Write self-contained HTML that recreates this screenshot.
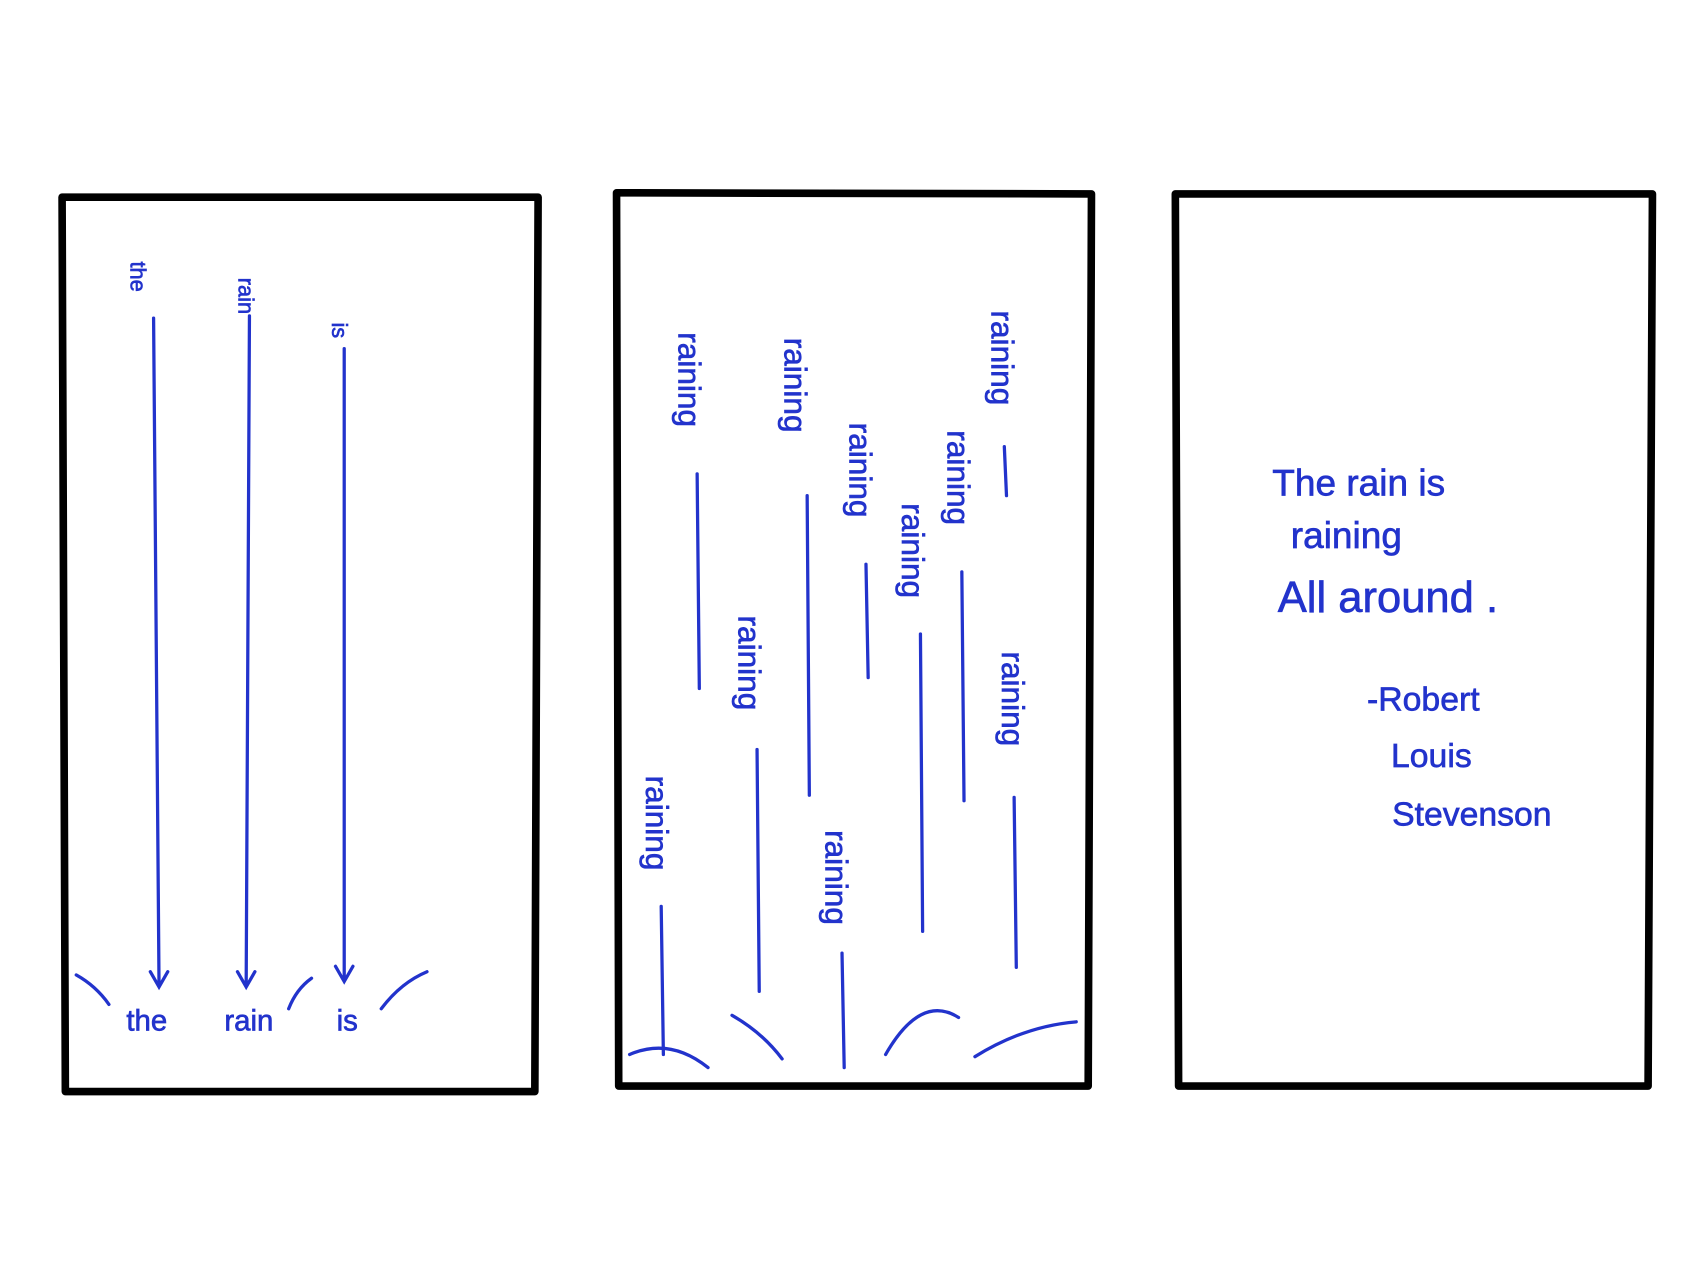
<!DOCTYPE html>
<html><head><meta charset="utf-8"><style>
html,body{margin:0;padding:0;background:#fff;}
svg{display:block;}
text{font-family:"Liberation Sans",sans-serif;fill:#2233cc;stroke:#2233cc;stroke-width:0.6;}
</style></head><body>
<svg id="s" width="1708" height="1280" viewBox="0 0 1568 1175" preserveAspectRatio="none">
<g fill="none" stroke="#000" stroke-width="7" stroke-linejoin="round">
<path d="M57,181 L494,181 L491,1002 L60,1002 Z"/>
<path d="M566,177 L1002,178 L999,997 L568,997 Z"/>
<path d="M1079,178 L1517,178 L1513,997 L1082,997 Z"/>
</g>
<g id="p1" stroke="#2233cc" stroke-width="3" fill="none" stroke-linecap="round">
<path d="M141,292 L146,905 M138,892 L146,906 L154,892"/>
<path d="M229,290 L226,905 M218,892 L226,906 L234,892"/>
<path d="M316,320 L316,900 M308,887 L316,901 L324,887"/>
<path d="M70,895 Q88,905 100,922"/>
<path d="M265,926 Q272,908 286,898"/>
<path d="M350,926 Q368,902 392,892"/>
</g>
<g font-size="20">
<text transform="translate(120,240) rotate(90)">the</text>
<text transform="translate(219,255) rotate(90)">rain</text>
<text transform="translate(305,296) rotate(90)">is</text>
</g>
<g font-size="27">
<text x="116" y="946">the</text>
<text x="206" y="946">rain</text>
<text x="309" y="946">is</text>
</g>
<g id="p2"></g>
<g fill="none" stroke="#2233cc" stroke-width="3" stroke-linecap="round">
<path d="M578,968 Q615,952 650,980"/>
<path d="M672,932 Q700,948 718,972"/>
<path d="M813,968 Q845,912 880,934"/>
<path d="M895,970 Q940,942 988,938"/>
</g>
<g font-size="34">
<text x="1168" y="455">The rain  is</text>
<text x="1185" y="503">raining</text>
<text x="1173" y="562" font-size="40">All  around .</text>
<text x="1255" y="652" font-size="31">-Robert</text>
<text x="1277" y="704" font-size="31">Louis</text>
<text x="1278" y="758" font-size="31">Stevenson</text>
</g>
</svg>
<script>
const dropTextX=[633,730,790,920,880,838,688,930,603,768];
const dropTextTop=[305,310,388,285,395,462,565,598,712,762];
const dropLineX=[640,741,795,922,883,845,695,931,607,773];
const dropLineTop=[435,455,518,410,525,582,688,732,832,875];
const dropLineBottom=[632,730,622,455,735,855,910,888,968,980];
const g=document.getElementById('p2');
const NS='http://www.w3.org/2000/svg';
for(let i=0;i<dropTextX.length;i++){
  const t=document.createElementNS(NS,'text');
  
  
  t.setAttribute('font-size','29');
  t.setAttribute('transform','translate('+(dropTextX[i]-10)+','+dropTextTop[i]+') rotate(90)');
  t.textContent='raining';
  g.appendChild(t);
  const l=document.createElementNS(NS,'line');
  
  
  l.setAttribute('x1',dropLineX[i]);l.setAttribute('y1',dropLineTop[i]);
  l.setAttribute('x2',dropLineX[i]+2);l.setAttribute('y2',dropLineBottom[i]);
  l.setAttribute('stroke','#2233cc');l.setAttribute('stroke-width','3');l.setAttribute('stroke-linecap','round');
  g.appendChild(l);
}
</script>
</body></html>
